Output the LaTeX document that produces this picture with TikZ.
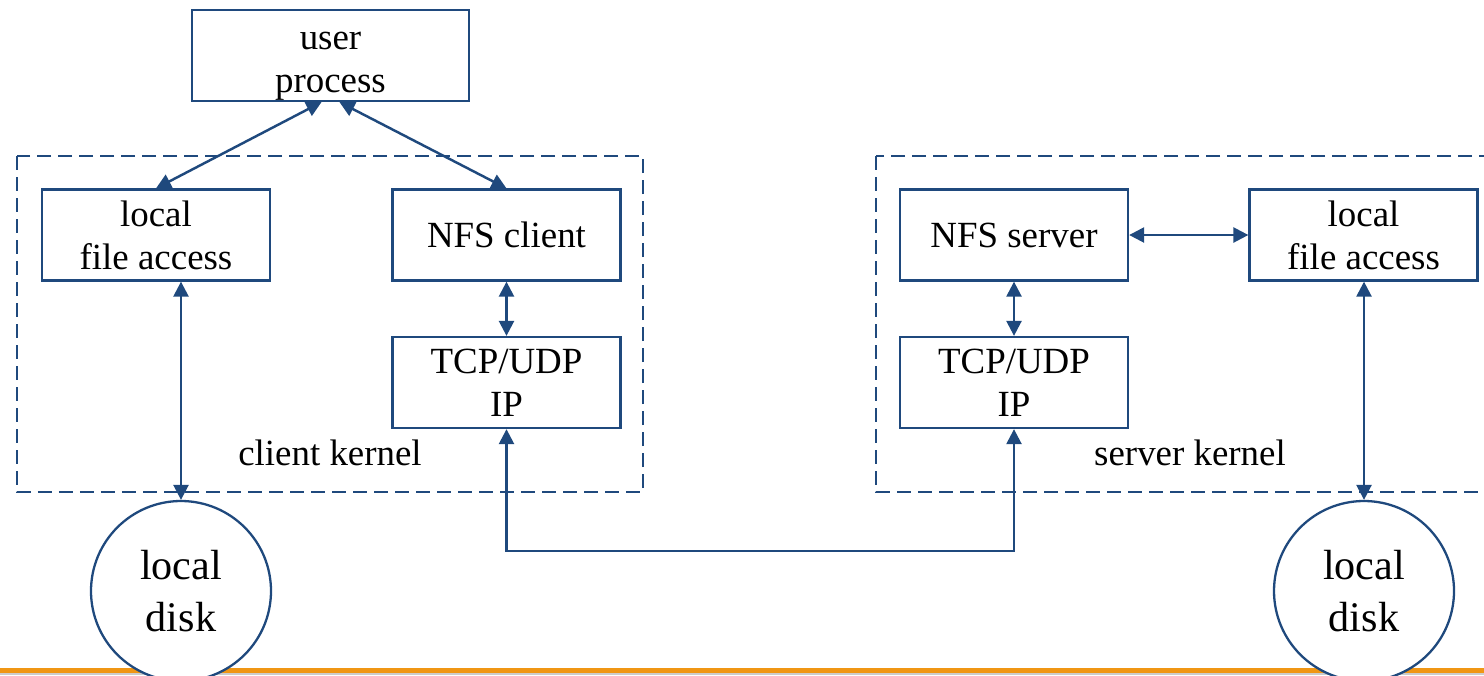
\documentclass[tikz,border=0pt]{standalone}
\usepackage{fontspec}
\setmainfont{Liberation Serif}
\usetikzlibrary{arrows.meta}
\definecolor{nfsblue}{RGB}{31,73,125}
\definecolor{slideorange}{RGB}{240,150,20}
\tikzset{
  box/.style={draw=nfsblue, line width=1.3pt, minimum width=4.56cm, minimum height=1.82cm,
    inner sep=0pt, align=center, font=\fontsize{21}{24.5}\selectfont},
  disk/.style={circle, draw=nfsblue, line width=1.3pt, fill=white, minimum size=3.6cm,
    inner sep=0pt, align=center, font=\fontsize{24}{30}\selectfont},
  kernel/.style={draw=nfsblue, line width=1pt, dash pattern=on 0.28cm off 0.14cm},
  kernlabel/.style={font=\fontsize{21}{24.5}\selectfont},
  link/.style={draw=nfsblue, line width=1.4pt,
    {Triangle[width=0.3cm,length=0.3cm]}-{Triangle[width=0.3cm,length=0.3cm]}}
}
\begin{document}
\begin{tikzpicture}
  \useasboundingbox (0,0) rectangle (29.68,-13.5);
  \clip (0,0) rectangle (29.68,-13.5);
  % kernels
  \draw[kernel] (0.34,-3.12) rectangle (12.86,-9.84);
  \draw[kernel] (17.52,-3.12) rectangle (30.2,-9.84);
  % footer band
  \fill[slideorange] (0,-13.36) rectangle (29.68,-13.46);
  \fill[black!20] (0,-13.46) rectangle (29.68,-13.5);
  \draw
    (6.61,-1.11) node[box, minimum width=5.54cm] (user){\rule{0pt}{0.78cm}user\\process}
    (3.12,-4.70) node[box] (lfac){local\\file access}
    (10.13,-4.70) node[box] (nfsc){NFS client}
    (10.13,-7.65) node[box] (tcpc){TCP/UDP\\IP}
    (20.28,-4.70) node[box] (nfss){NFS server}
    (27.27,-4.70) node[box] (lfas){local\\file access}
    (20.28,-7.65) node[box] (tcps){TCP/UDP\\IP}
    (6.60,-9.06) node[kernlabel] (ck){client kernel}
    (23.80,-9.06) node[kernlabel] (sk){server kernel}
    (3.62,-11.82) node[disk] (cdisk){local\\disk}
    (27.28,-11.82) node[disk] (sdisk){local\\disk};
  \coordinate (wire) at (0,-11.02);
  \begin{scope}[link]
    \draw ([xshift=-0.18cm]user.south) -- (lfac.north);
    \draw ([xshift=0.18cm]user.south) -- (nfsc.north);
    \draw (nfsc) -- (tcpc);
    \draw (nfss) -- (tcps);
    \draw (nfss) -- (lfas);
    \draw (lfac.south -| cdisk) -- (cdisk);
    \draw (lfas.south -| sdisk) -- (sdisk);
    \draw (tcpc) -- (tcpc |- wire) -| (tcps);
  \end{scope}
\end{tikzpicture}
\end{document}
